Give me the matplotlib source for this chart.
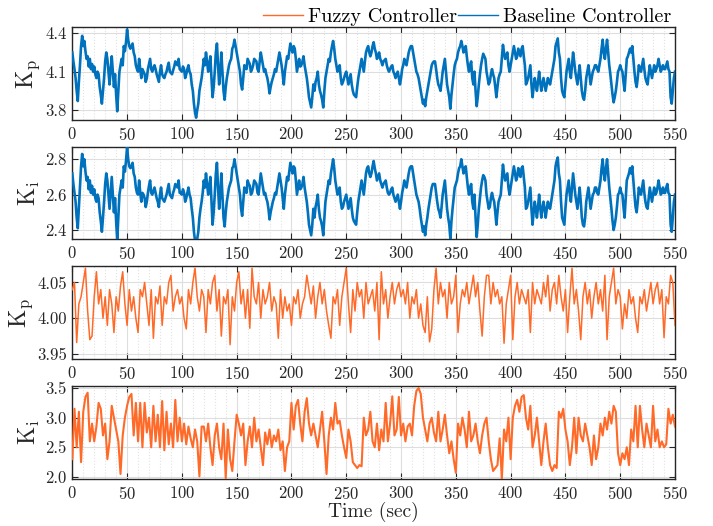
import numpy as np
import matplotlib
matplotlib.use('Agg')
import matplotlib.pyplot as plt
from matplotlib.ticker import MultipleLocator, FormatStrFormatter
from matplotlib.lines import Line2D

# ---------------- data ----------------
series_labels = ['Fuzzy Controller', 'Baseline Controller']
x_ticks = [0, 50, 100, 150, 200, 250, 300, 350, 400, 450, 500, 550]

# Baseline controller, 1-s samples, t = 0..550
kp_baseline = [
    4.25, 4.18, 4.12, 4.05, 3.95, 3.87, 4.02, 4.15, 4.3, 4.38, 4.3, 4.34, 4.26, 4.2, 4.22, 4.14, 4.2, 4.12, 4.16, 4.1, 4.14,
    4.08, 4.05, 4.1, 4.08, 3.98, 3.92, 3.85, 3.95, 4.05, 4.18, 4.25, 4.2, 4.1, 4.0, 4.12, 4.22, 4.1, 3.98, 4.08, 3.92,
    3.79, 3.95, 4.1, 4.15, 4.2, 4.15, 4.3, 4.26, 4.33, 4.43, 4.35, 4.3, 4.28, 4.3, 4.32, 4.25, 4.22, 4.15, 4.12, 4.1,
    4.2, 4.12, 4.05, 4.12, 4.1, 4.08, 4.02, 4.05, 4.12, 4.16, 4.2, 4.12, 4.1, 4.13, 4.15, 4.12, 4.08, 4.05, 4.02, 4.1,
    4.15, 4.08, 4.06, 4.05, 4.08, 4.1, 4.14, 4.17, 4.1, 4.09, 4.08, 4.11, 4.14, 4.18, 4.16, 4.15, 4.2, 4.12, 4.11, 4.1,
    4.14, 4.12, 4.05, 4.08, 4.12, 4.15, 4.1, 4.08, 4.0, 3.95, 3.85, 3.78, 3.74, 3.8, 3.85, 3.95, 4.0, 4.05, 4.12, 4.2,
    4.15, 4.25, 4.18, 4.1, 4.15, 4.22, 4.05, 3.9, 3.98, 4.1, 4.25, 4.32, 4.15, 4.0, 4.1, 4.25, 4.1, 3.95, 3.88, 3.98,
    4.05, 4.1, 4.15, 4.18, 4.2, 4.28, 4.3, 4.35, 4.3, 4.25, 4.2, 4.15, 4.1, 4.0, 3.96, 4.05, 4.15, 4.13, 4.12, 4.2,
    4.18, 4.16, 4.1, 4.12, 4.15, 4.2, 4.19, 4.18, 4.12, 4.1, 4.18, 4.25, 4.2, 4.15, 4.1, 4.12, 4.08, 4.05, 4.0, 3.93,
    3.98, 4.02, 4.05, 4.08, 4.12, 4.1, 4.15, 4.2, 4.25, 4.2, 4.15, 4.08, 4.0, 4.1, 4.16, 4.22, 4.2, 4.26, 4.32, 4.28,
    4.25, 4.3, 4.28, 4.2, 4.1, 4.15, 4.2, 4.14, 4.15, 4.18, 4.22, 4.15, 4.1, 4.05, 3.98, 3.9, 3.86, 3.82, 3.9, 4.0,
    3.95, 4.02, 4.05, 4.1, 4.0, 3.95, 3.92, 3.88, 3.82, 3.95, 4.05, 4.1, 4.15, 4.2, 4.18, 4.25, 4.3, 4.34, 4.28, 4.2,
    4.15, 4.1, 4.12, 4.15, 4.05, 4.0, 4.02, 4.05, 4.08, 4.1, 4.05, 4.0, 4.04, 4.08, 4.0, 3.95, 3.92, 3.91, 3.9, 3.98,
    4.05, 4.1, 4.15, 4.2, 4.15, 4.1, 4.18, 4.25, 4.28, 4.3, 4.25, 4.22, 4.25, 4.3, 4.33, 4.28, 4.25, 4.2, 4.22, 4.25,
    4.2, 4.18, 4.15, 4.18, 4.19, 4.2, 4.15, 4.12, 4.1, 4.12, 4.14, 4.15, 4.1, 4.08, 4.05, 4.08, 4.1, 4.05, 4.0, 4.05,
    4.12, 4.15, 4.2, 4.17, 4.15, 4.2, 4.25, 4.28, 4.3, 4.3, 4.25, 4.2, 4.15, 4.1, 4.08, 4.05, 4.0, 3.95, 3.9, 3.85,
    3.88, 3.83, 3.9, 3.95, 4.0, 4.05, 4.1, 4.15, 4.17, 4.18, 4.18, 4.12, 4.05, 4.0, 3.98, 3.95, 4.02, 4.1, 4.15, 4.2,
    4.1, 4.0, 3.95, 3.9, 3.81, 3.92, 4.0, 4.08, 4.15, 4.18, 4.2, 4.25, 4.28, 4.3, 4.34, 4.3, 4.25, 4.28, 4.3, 4.22,
    4.15, 4.1, 4.15, 4.18, 4.05, 4.0, 4.1, 3.95, 3.83, 3.9, 4.0, 4.08, 4.15, 4.2, 4.24, 4.22, 4.2, 4.1, 4.05, 4.0,
    4.02, 4.08, 4.12, 4.08, 4.05, 3.98, 3.9, 3.98, 4.05, 4.08, 4.1, 4.2, 4.31, 4.25, 4.2, 4.22, 4.25, 4.15, 4.1, 4.15,
    4.2, 4.25, 4.3, 4.25, 4.2, 4.22, 4.28, 4.25, 4.22, 4.28, 4.3, 4.22, 4.15, 4.0, 4.02, 4.05, 4.1, 4.15, 4.0, 3.9,
    3.98, 4.05, 4.0, 3.95, 4.02, 4.1, 4.02, 3.95, 4.0, 4.05, 4.0, 3.95, 4.0, 4.05, 4.02, 4.0, 4.05, 4.1, 4.15, 4.2,
    4.3, 4.33, 4.36, 4.25, 4.2, 4.05, 3.95, 3.92, 3.9, 4.0, 4.1, 4.15, 4.2, 4.1, 4.05, 4.15, 4.25, 4.18, 4.1, 4.05,
    4.0, 4.08, 4.15, 4.05, 3.95, 3.9, 3.88, 3.95, 4.05, 4.1, 4.15, 4.08, 4.0, 4.05, 4.1, 4.12, 4.15, 4.15, 4.12, 4.1,
    4.15, 4.2, 4.28, 4.35, 4.25, 4.2, 4.28, 4.35, 4.25, 4.15, 4.08, 4.0, 3.92, 3.86, 3.9, 3.95, 4.02, 4.1, 4.12, 4.15,
    4.12, 4.1, 4.02, 3.95, 4.08, 4.2, 4.22, 4.25, 4.28, 4.25, 4.3, 4.2, 4.1, 4.02, 3.98, 4.05, 4.15, 4.12, 4.1, 4.15,
    4.2, 4.12, 4.05, 4.02, 4.0, 4.08, 4.15, 4.1, 4.05, 4.1, 4.15, 4.1, 4.12, 4.15, 4.2, 4.15, 4.1, 4.12, 4.15, 4.12,
    4.12, 4.15, 4.18, 4.12, 4.1, 3.9, 3.85, 3.95, 4.05, 4.1,
]

ki_baseline = [
    2.72, 2.66, 2.61, 2.56, 2.47, 2.41, 2.53, 2.64, 2.76, 2.83, 2.76, 2.80, 2.73, 2.68, 2.70, 2.63, 2.68, 2.61, 2.65, 2.60, 2.63,
    2.58, 2.56, 2.60, 2.58, 2.50, 2.45, 2.39, 2.47, 2.56, 2.66, 2.72, 2.68, 2.60, 2.52, 2.61, 2.70, 2.60, 2.50, 2.58, 2.45,
    2.34, 2.47, 2.60, 2.64, 2.68, 2.64, 2.76, 2.73, 2.79, 2.87, 2.80, 2.76, 2.75, 2.76, 2.78, 2.72, 2.70, 2.64, 2.61, 2.60,
    2.68, 2.61, 2.56, 2.61, 2.60, 2.58, 2.53, 2.56, 2.61, 2.65, 2.68, 2.61, 2.60, 2.62, 2.64, 2.61, 2.58, 2.56, 2.53, 2.60,
    2.64, 2.58, 2.57, 2.56, 2.58, 2.60, 2.63, 2.66, 2.60, 2.59, 2.58, 2.61, 2.63, 2.66, 2.65, 2.64, 2.68, 2.61, 2.61, 2.60,
    2.63, 2.61, 2.56, 2.58, 2.61, 2.64, 2.60, 2.58, 2.52, 2.47, 2.39, 2.34, 2.30, 2.35, 2.39, 2.47, 2.52, 2.56, 2.61, 2.68,
    2.64, 2.72, 2.66, 2.60, 2.64, 2.70, 2.56, 2.43, 2.50, 2.60, 2.72, 2.78, 2.64, 2.52, 2.60, 2.72, 2.60, 2.47, 2.42, 2.50,
    2.56, 2.60, 2.64, 2.66, 2.68, 2.75, 2.76, 2.80, 2.76, 2.72, 2.68, 2.64, 2.60, 2.52, 2.48, 2.56, 2.64, 2.62, 2.61, 2.68,
    2.66, 2.65, 2.60, 2.61, 2.64, 2.68, 2.67, 2.66, 2.61, 2.60, 2.66, 2.72, 2.68, 2.64, 2.60, 2.61, 2.58, 2.56, 2.52, 2.46,
    2.50, 2.53, 2.56, 2.58, 2.61, 2.60, 2.64, 2.68, 2.72, 2.68, 2.64, 2.58, 2.52, 2.60, 2.65, 2.70, 2.68, 2.73, 2.78, 2.75,
    2.72, 2.76, 2.75, 2.68, 2.60, 2.64, 2.68, 2.63, 2.64, 2.66, 2.70, 2.64, 2.60, 2.56, 2.50, 2.43, 2.40, 2.37, 2.43, 2.52,
    2.47, 2.53, 2.56, 2.60, 2.52, 2.47, 2.45, 2.42, 2.37, 2.47, 2.56, 2.60, 2.64, 2.68, 2.66, 2.72, 2.76, 2.80, 2.75, 2.68,
    2.64, 2.60, 2.61, 2.64, 2.56, 2.52, 2.53, 2.56, 2.58, 2.60, 2.56, 2.52, 2.55, 2.58, 2.52, 2.47, 2.45, 2.44, 2.43, 2.50,
    2.56, 2.60, 2.64, 2.68, 2.64, 2.60, 2.66, 2.72, 2.75, 2.76, 2.72, 2.70, 2.72, 2.76, 2.79, 2.75, 2.72, 2.68, 2.70, 2.72,
    2.68, 2.66, 2.64, 2.66, 2.67, 2.68, 2.64, 2.61, 2.60, 2.61, 2.63, 2.64, 2.60, 2.58, 2.56, 2.58, 2.60, 2.56, 2.52, 2.56,
    2.61, 2.64, 2.68, 2.66, 2.64, 2.68, 2.72, 2.75, 2.76, 2.76, 2.72, 2.68, 2.64, 2.60, 2.58, 2.56, 2.52, 2.47, 2.43, 2.39,
    2.42, 2.37, 2.43, 2.47, 2.52, 2.56, 2.60, 2.64, 2.66, 2.66, 2.66, 2.61, 2.56, 2.52, 2.50, 2.47, 2.53, 2.60, 2.64, 2.68,
    2.60, 2.52, 2.47, 2.43, 2.35, 2.45, 2.52, 2.58, 2.64, 2.66, 2.68, 2.72, 2.75, 2.76, 2.80, 2.76, 2.72, 2.75, 2.76, 2.70,
    2.64, 2.60, 2.64, 2.66, 2.56, 2.52, 2.60, 2.47, 2.36, 2.43, 2.52, 2.58, 2.64, 2.68, 2.71, 2.70, 2.68, 2.60, 2.56, 2.52,
    2.53, 2.58, 2.61, 2.58, 2.56, 2.50, 2.43, 2.50, 2.56, 2.58, 2.60, 2.68, 2.77, 2.72, 2.68, 2.70, 2.72, 2.64, 2.60, 2.64,
    2.68, 2.72, 2.76, 2.72, 2.68, 2.70, 2.75, 2.72, 2.70, 2.75, 2.76, 2.70, 2.64, 2.52, 2.53, 2.56, 2.60, 2.64, 2.52, 2.43,
    2.50, 2.56, 2.52, 2.47, 2.53, 2.60, 2.53, 2.47, 2.52, 2.56, 2.52, 2.47, 2.52, 2.56, 2.53, 2.52, 2.56, 2.60, 2.64, 2.68,
    2.76, 2.79, 2.81, 2.72, 2.68, 2.56, 2.47, 2.45, 2.43, 2.52, 2.60, 2.64, 2.68, 2.60, 2.56, 2.64, 2.72, 2.66, 2.60, 2.56,
    2.52, 2.58, 2.64, 2.56, 2.47, 2.43, 2.42, 2.47, 2.56, 2.60, 2.64, 2.58, 2.52, 2.56, 2.60, 2.61, 2.64, 2.64, 2.61, 2.60,
    2.64, 2.68, 2.75, 2.80, 2.72, 2.68, 2.75, 2.80, 2.72, 2.64, 2.58, 2.52, 2.45, 2.40, 2.43, 2.47, 2.53, 2.60, 2.61, 2.64,
    2.61, 2.60, 2.53, 2.47, 2.58, 2.68, 2.70, 2.72, 2.75, 2.72, 2.76, 2.68, 2.60, 2.53, 2.50, 2.56, 2.64, 2.61, 2.60, 2.64,
    2.68, 2.61, 2.56, 2.53, 2.52, 2.58, 2.64, 2.60, 2.56, 2.60, 2.64, 2.60, 2.61, 2.64, 2.68, 2.64, 2.60, 2.61, 2.64, 2.61,
    2.61, 2.64, 2.66, 2.61, 2.60, 2.43, 2.39, 2.47, 2.56, 2.60,
]

# Fuzzy controller, 2-s samples, t = 0..550
kp_fuzzy = [
    4.04, 4.05, 3.966, 4.02, 4.03, 4.05, 4.07, 4.01, 3.97, 3.975,
    4.03, 4.065, 4.02, 4.04, 4.00, 4.03, 3.99, 4.04, 4.02, 3.98,
    4.03, 4.01, 4.045, 4.065, 4.02, 3.99, 4.04, 4.01, 4.03, 4.00,
    3.98, 4.04, 4.03, 4.05, 4.02, 3.99, 4.04, 3.972, 4.03, 4.02,
    4.045, 3.99, 4.03, 4.02, 4.05, 4.06, 4.01, 4.03, 4.04, 4.02,
    4.03, 4.00, 3.985, 4.04, 4.02, 4.05, 4.07, 4.03, 4.01, 4.04,
    4.03, 3.98, 4.04, 4.02, 4.05, 4.06, 4.01, 4.04, 3.975, 4.03,
    4.02, 4.04, 3.963, 4.03, 4.01, 4.05, 4.065, 4.02, 4.04, 4.00,
    4.04, 3.986, 4.07, 4.03, 4.02, 4.05, 4.00, 4.04, 4.02, 4.03,
    4.05, 4.01, 4.03, 4.02, 3.972, 4.04, 4.00, 4.03, 4.01, 4.02,
    3.99, 4.03, 4.02, 4.04, 4.00, 4.02, 4.03, 4.06, 4.04, 4.02,
    4.045, 4.00, 4.03, 4.05, 4.02, 4.04, 4.01, 3.99, 3.972, 4.03,
    4.02, 4.04, 3.99, 4.03, 4.05, 4.07, 4.02, 3.98, 4.04, 4.01,
    4.05, 4.03, 4.04, 4.00, 4.05, 4.02, 4.03, 4.04, 4.01, 4.05,
    3.97, 4.065, 4.02, 4.04, 4.00, 4.03, 4.05, 4.02, 4.04, 4.05,
    4.03, 4.04, 4.02, 4.05, 4.00, 4.03, 4.02, 4.04, 4.00, 4.02,
    3.99, 3.98, 4.03, 3.967, 3.985, 4.04, 4.07, 4.02, 4.05, 4.03,
    4.04, 4.00, 4.05, 4.02, 4.03, 4.06, 3.98, 4.02, 4.04, 4.03,
    4.05, 4.02, 4.04, 4.06, 4.03, 4.05, 4.01, 3.975, 4.03, 4.06,
    4.06, 4.02, 4.05, 4.03, 4.04, 4.02, 4.03, 3.965, 4.02, 4.04,
    4.06, 3.97, 4.03, 4.05, 4.02, 4.04, 4.03, 4.02, 4.04, 3.98,
    4.05, 4.02, 4.04, 4.03, 4.02, 4.05, 4.03, 4.06, 4.01, 4.04,
    4.05, 4.02, 4.06, 4.03, 4.01, 4.04, 3.98, 4.03, 4.07, 4.02,
    4.04, 4.01, 3.97, 4.03, 4.05, 4.02, 4.04, 4.00, 4.03, 4.05,
    4.02, 4.04, 4.01, 4.06, 3.97, 4.03, 4.05, 4.07, 4.02, 4.04,
    4.03, 3.985, 4.02, 4.00, 4.04, 4.02, 4.03, 4.00, 3.98, 4.03,
    4.02, 4.04, 4.01, 4.03, 4.05, 4.02, 4.04, 4.05, 4.02, 4.04,
    3.973, 4.03, 4.02, 4.06, 4.05, 3.99,
]

ki_fuzzy = [
    2.30, 3.15, 2.50, 3.10, 2.25, 3.10, 3.35, 3.42, 2.60, 2.90,
    2.60, 2.85, 3.25, 3.15, 2.70, 2.90, 2.30, 2.60, 3.20, 3.00,
    2.80, 2.60, 2.05, 2.70, 3.00, 3.20, 3.35, 3.40, 2.70, 3.25,
    2.60, 3.25, 2.50, 3.25, 2.75, 3.00, 2.50, 3.20, 2.60, 3.05,
    2.50, 3.28, 2.45, 3.10, 2.55, 2.90, 2.50, 3.30, 2.60, 3.00,
    2.60, 2.90, 2.55, 2.85, 2.65, 2.50, 2.80, 2.60, 2.01, 2.85,
    2.85, 2.60, 2.90, 2.50, 2.20, 2.70, 2.90, 2.50, 2.30, 2.90,
    1.98, 2.80, 2.30, 2.10, 2.60, 3.05, 2.90, 2.70, 2.90, 2.20,
    2.60, 2.85, 2.50, 3.00, 2.60, 2.80, 2.50, 2.20, 2.75, 2.55,
    2.80, 2.50, 2.70, 2.60, 2.80, 2.45, 2.60, 2.10, 2.50, 2.60,
    3.25, 2.80, 3.20, 3.30, 2.90, 2.60, 3.10, 3.33, 2.90, 2.70,
    2.90, 2.70, 2.50, 2.80, 3.10, 2.60, 2.05, 2.70, 3.00, 2.80,
    3.25, 2.90, 2.95, 2.70, 2.50, 2.32, 2.80, 2.60, 2.25, 2.20,
    2.15, 2.20, 2.18, 3.00, 2.70, 2.80, 3.10, 2.60, 2.50, 2.90,
    2.45, 2.80, 2.60, 3.25, 2.60, 2.90, 3.36, 2.70, 2.80, 3.35,
    2.70, 2.90, 2.60, 2.85, 2.90, 2.70, 3.20, 3.45, 3.50, 3.40,
    3.00, 2.80, 2.60, 2.90, 3.00, 2.75, 2.60, 3.10, 2.60, 2.80,
    3.05, 2.70, 2.40, 2.60, 2.30, 2.07, 2.90, 2.70, 3.00, 2.80,
    2.50, 3.10, 2.60, 2.70, 2.90, 2.60, 2.40, 2.70, 2.90, 3.00,
    2.60, 2.30, 2.10, 2.15, 2.20, 2.65, 1.97, 2.80, 2.60, 3.00,
    2.30, 3.00, 3.20, 3.30, 3.10, 3.35, 3.38, 3.00, 2.80, 3.20,
    2.50, 2.70, 3.00, 2.60, 2.20, 2.60, 2.90, 2.50, 2.20, 2.10,
    2.20, 2.15, 3.10, 3.00, 3.15, 2.80, 2.60, 2.20, 2.50, 3.00,
    2.40, 3.00, 2.70, 2.60, 2.90, 2.70, 2.50, 2.20, 2.70, 2.30,
    2.50, 2.90, 2.70, 3.00, 2.80, 3.10, 2.90, 3.20, 3.10, 2.40,
    2.20, 2.40, 2.30, 2.50, 2.20, 2.80, 2.60, 3.20, 2.50, 3.20,
    2.80, 2.50, 2.90, 2.70, 2.50, 3.20, 2.60, 2.80, 2.50, 2.60,
    2.50, 2.55, 3.15, 2.90, 3.05, 2.85,
]

t_baseline = np.arange(0, 551, 1)
t_fuzzy = np.arange(0, 551, 2)

# ---------------- style ----------------
plt.rcParams['font.family'] = ['cmr10']
plt.rcParams['mathtext.fontset'] = 'cm'
plt.rcParams['axes.formatter.use_mathtext'] = True

BLUE = '#0072BD'
ORANGE = '#FF6A28'
DARK = '#262626'

fig = plt.figure(figsize=(7.13, 5.26), dpi=100)

left, width = 0.1014, 0.8453
rects = [
    (left, 0.7719, width, 0.1762),
    (left, 0.5456, width, 0.1755),
    (left, 0.3175, width, 0.1768),
    (left, 0.0894, width, 0.1762),
]

panels = [
    dict(t=t_baseline, y=kp_baseline, color=BLUE, lw=1.9, ylim=(3.722, 4.447),
         yticks=[3.8, 4.1, 4.4], fmt='%.1f', ylabel=r'$\mathrm{K}_\mathrm{p}$', lx=-0.05),
    dict(t=t_baseline, y=ki_baseline, color=BLUE, lw=1.9, ylim=(2.349, 2.871),
         yticks=[2.4, 2.6, 2.8], fmt='%.1f', ylabel=r'$\mathrm{K}_\mathrm{i}$', lx=-0.05),
    dict(t=t_fuzzy, y=kp_fuzzy, color=ORANGE, lw=1.1, ylim=(3.943, 4.073),
         yticks=[3.95, 4.00, 4.05], fmt='%.2f', ylabel=r'$\mathrm{K}_\mathrm{p}$', lx=-0.062),
    dict(t=t_fuzzy, y=ki_fuzzy, color=ORANGE, lw=1.5, ylim=(1.966, 3.529),
         yticks=[2.0, 2.5, 3.0, 3.5], fmt='%.1f', ylabel=r'$\mathrm{K}_\mathrm{i}$', lx=-0.05),
]

axes = []
for rect, p in zip(rects, panels):
    ax = fig.add_axes(rect)
    ax.plot(p['t'], p['y'], color=p['color'], lw=p['lw'], zorder=3)
    ax.set_xlim(0, 550)
    ax.set_ylim(*p['ylim'])
    ax.set_xticks(x_ticks)
    ax.xaxis.set_minor_locator(MultipleLocator(10))
    ax.set_yticks(p['yticks'])
    ax.yaxis.set_major_formatter(FormatStrFormatter(p['fmt']))
    ax.tick_params(which='major', direction='in', top=True, right=True,
                   length=4, width=0.8, labelsize=12, colors=DARK, pad=4)
    ax.tick_params(which='minor', length=0)
    ax.grid(which='major', color='#dedede', lw=0.8)
    ax.grid(which='minor', axis='x', color='#e2e2e2', ls=':', lw=0.8)
    ax.set_axisbelow(True)
    for s in ax.spines.values():
        s.set_color(DARK)
        s.set_linewidth(1.0)
    ax.set_ylabel(p['ylabel'], fontsize=17, color=DARK)
    ax.yaxis.set_label_coords(p['lx'], 0.5)
    axes.append(ax)

axes[-1].set_xlabel('Time (sec)', fontsize=14, color=DARK, labelpad=0)

handles = [Line2D([], [], color=ORANGE, lw=1.0), Line2D([], [], color=BLUE, lw=1.0)]
fig.legend(handles, series_labels, loc='lower right', bbox_to_anchor=(0.942, 0.950),
           ncol=2, frameon=False, fontsize=14.5, handlelength=2.0, handletextpad=0.25,
           columnspacing=0.05, borderpad=0.0, borderaxespad=0.0)

fig.savefig('out.png', dpi=100)
